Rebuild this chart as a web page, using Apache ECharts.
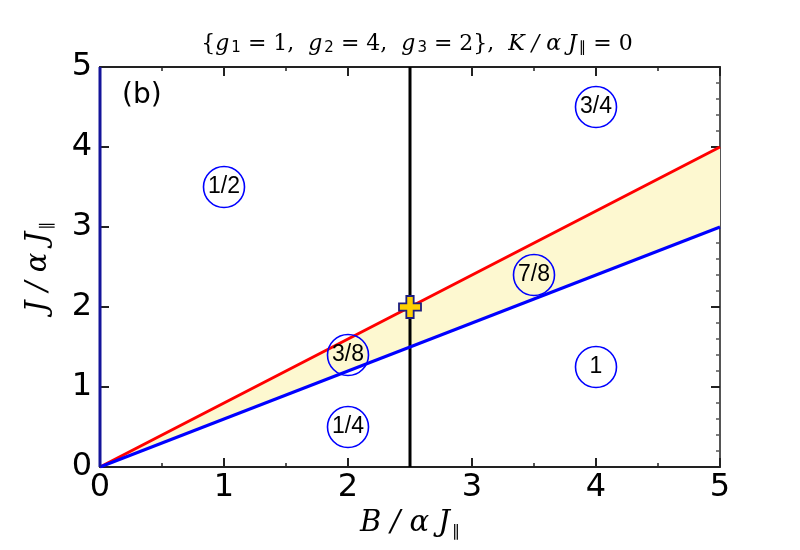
<!DOCTYPE html>
<html>
<head>
<meta charset="utf-8">
<script src="https://cdn.jsdelivr.net/npm/echarts@6/dist/echarts.min.js"></script>
<style>html,body{margin:0;padding:0;background:#fff;}#c{width:800px;height:550px;}</style>
</head>
<body>
<div id="c"></div>
<script>
// ---- data ----
const xEnds = [0, 5];
const redLine = [0, 4];
const blueLine = [0, 3];
const verticalX = 2.5;
const verticalY = [0, 5];
const leftEdgeX = 0;
const crossPoint = [2.5, 2];
const regionLabels = ['1/2', '3/4', '7/8', '3/8', '1/4', '1'];
const regionX = [1, 4, 3.5, 2, 2, 4];
const regionY = [3.5, 4.5, 2.4, 1.4, 0.5, 1.25];
const xTicks = [0, 1, 2, 3, 4, 5];
const yTicks = [0, 1, 2, 3, 4, 5];

const chart = echarts.init(document.getElementById('c'), null, {renderer: 'canvas'});

const serif = 'DejaVu Serif';
const sans = 'DejaVu Sans';
const axisColor = '#222';

function nameRich(size, subScale) {
  return {
    i: {fontFamily: serif, fontStyle: 'italic', fontSize: size, color: '#000'},
    s: {fontFamily: sans, fontSize: Math.round(size * subScale), color: '#000', verticalAlign: 'bottom', padding: [0, 0, -Math.round(size * 0.06), 2]},
    n: {fontFamily: serif, fontSize: size, color: '#000'}
  };
}

const bandData = xEnds.map((x, i) => [x, blueLine[i], redLine[i]]);

const option = {
  animation: false,
  backgroundColor: '#fff',
  title: {
    text: '{' + '{i|g}{s|1}{n| = 1,  }{i|g}{s|2}{n| = 4,  }{i|g}{s|3}{n| = 2}' + '}' + '{n|,  }{i|K / α J}{s|∥}{n| = 0}',
    left: 412, top: 28, textAlign: 'center',
    textStyle: {fontFamily: serif, fontSize: 22, fontWeight: 'normal', color: '#000', rich: nameRich(22, 0.68)}
  },
  grid: {left: 100, right: 80, top: 67, bottom: 83},
  xAxis: [{
    type: 'value', min: 0, max: 5, interval: 1, position: 'bottom',
    name: '{i|B / α J}{s|∥}', nameLocation: 'middle', nameGap: 40,
    nameTextStyle: {rich: nameRich(29, 0.55)},
    axisLine: {show: true, onZero: false, lineStyle: {color: axisColor, width: 2}},
    axisTick: {show: true, inside: true, length: 9, lineStyle: {color: axisColor, width: 2}},
    minorTick: {show: true, splitNumber: 2, length: 4, lineStyle: {color: axisColor, width: 1.5}},
    axisLabel: {fontFamily: sans, fontSize: 32, color: '#000', margin: 5,
      formatter: v => xTicks.includes(v) ? String(v) : ''},
    splitLine: {show: false}
  }, {
    type: 'value', min: 0, max: 5, interval: 1, position: 'top',
    axisLine: {show: true, onZero: false, lineStyle: {color: axisColor, width: 2}},
    axisTick: {show: true, inside: true, length: 9, lineStyle: {color: axisColor, width: 2}},
    minorTick: {show: true, splitNumber: 2, length: 4, lineStyle: {color: axisColor, width: 1.5}},
    axisLabel: {show: false}, splitLine: {show: false}
  }],
  yAxis: [{
    type: 'value', min: 0, max: 5, interval: 1, position: 'left',
    name: '{i|J / α J}{s|∥}', nameLocation: 'middle', nameGap: 47, nameRotate: 90,
    nameTextStyle: {rich: nameRich(29, 0.55)},
    axisLine: {show: true, onZero: false, lineStyle: {color: axisColor, width: 2}},
    axisTick: {show: true, inside: true, length: 9, lineStyle: {color: axisColor, width: 2}},
    minorTick: {show: false},
    axisLabel: {fontFamily: sans, fontSize: 32, color: '#000', margin: 8,
      formatter: v => yTicks.includes(v) ? String(v) : ''},
    splitLine: {show: false}
  }, {
    type: 'value', min: 0, max: 5, interval: 1, position: 'right',
    axisLine: {show: true, onZero: false, lineStyle: {color: '#555', width: 2}},
    axisTick: {show: true, inside: true, length: 9, lineStyle: {color: axisColor, width: 2}},
    minorTick: {show: true, splitNumber: 5, length: 4, lineStyle: {color: '#555', width: 1.5}},
    axisLabel: {show: false}, splitLine: {show: false}
  }],
  series: [
    {
      type: 'custom', name: 'band', z: 1, silent: true,
      data: bandData,
      renderItem: function (params, api) {
        if (params.dataIndex !== 0) return null;
        const pts = [];
        bandData.forEach(d => pts.push(api.coord([d[0], d[2]])));
        bandData.slice().reverse().forEach(d => pts.push(api.coord([d[0], d[1]])));
        return {type: 'polygon', shape: {points: pts}, style: {fill: '#fdf8d0', stroke: null}};
      }
    },
    {
      type: 'line', name: 'red', z: 3, symbol: 'none',
      data: xEnds.map((x, i) => [x, redLine[i]]),
      lineStyle: {color: '#ff0000', width: 3}
    },
    {
      type: 'line', name: 'blue', z: 3, symbol: 'none',
      data: xEnds.map((x, i) => [x, blueLine[i]]),
      lineStyle: {color: '#0000ff', width: 3}
    },
    {
      type: 'line', name: 'vertical', z: 2, symbol: 'none',
      data: verticalY.map(y => [verticalX, y]),
      lineStyle: {color: '#000', width: 3}
    },
    {
      type: 'line', name: 'leftEdge', z: 4, symbol: 'none',
      data: verticalY.map(y => [leftEdgeX, y]),
      lineStyle: {color: '#14149a', width: 3}
    },
    {
      type: 'scatter', name: 'regions', z: 5, symbol: 'circle', symbolSize: 41,
      data: regionX.map((x, i) => ({value: [x, regionY[i]], name: regionLabels[i]})),
      itemStyle: {color: 'rgba(255,255,255,0)', borderColor: '#0000ff', borderWidth: 1.6, opacity: 1},
      label: {show: true, position: 'inside', formatter: p => p.name, fontFamily: '"Liberation Sans Narrow", "Liberation Sans", sans-serif', fontSize: 23, color: '#000', opacity: 1},
      emphasis: {disabled: true}
    },
    {
      type: 'scatter', name: 'cross', z: 6,
      symbol: 'path://M-1,-3 L1,-3 L1,-1 L3,-1 L3,1 L1,1 L1,3 L-1,3 L-1,1 L-3,1 L-3,-1 L-1,-1 Z',
      symbolSize: 22,
      data: [crossPoint],
      itemStyle: {color: '#ffd000', borderColor: '#1c1c80', borderWidth: 1.8, opacity: 1},
      emphasis: {disabled: true}
    }
  ],
  graphic: [{
    type: 'text', left: 122, top: 82,
    style: {text: '(b)', fontFamily: sans, fontSize: 28, fill: '#000'}
  }]
};
chart.setOption(option);
</script>
</body>
</html>
